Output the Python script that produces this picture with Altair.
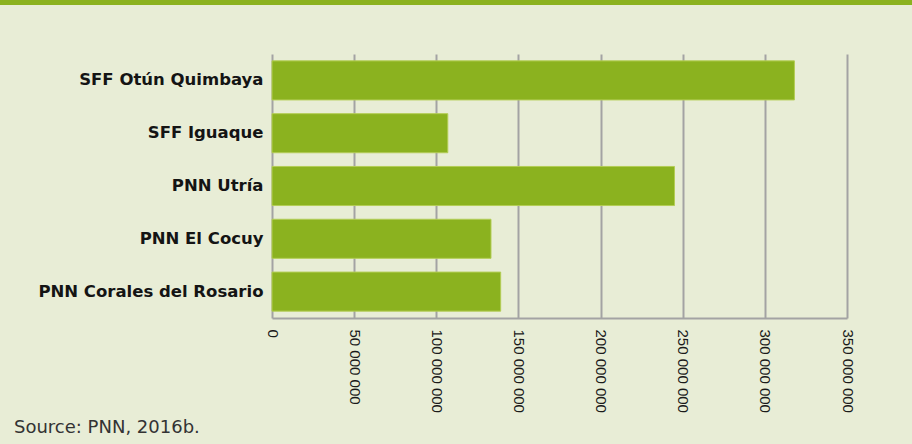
import altair as alt
import pandas as pd

parks = ["SFF Otún Quimbaya", "SFF Iguaque", "PNN Utría", "PNN El Cocuy", "PNN Corales del Rosario"]
values = [318000000, 107000000, 245000000, 133300000, 139200000]
tick_values = [0, 50000000, 100000000, 150000000, 200000000, 250000000, 300000000, 350000000]
source_note = ["Source: PNN, 2016b."]

df = pd.DataFrame({"park": parks, "value": values})

BG = "#e8edd6"
GREEN = "#8bb21f"
GRID = "#a3a3a3"
FONT = "Liberation Sans"
WIDE = "DejaVu Sans"

W, H = 575, 264
PL, PT = 272, 54

bars = alt.Chart(df).mark_bar(color=GREEN, stroke="#b3cd55", strokeWidth=1).encode(
    x=alt.X("value:Q",
            scale=alt.Scale(domain=[0, 350000000], nice=False),
            axis=alt.Axis(values=tick_values, title=None, labelAngle=90,
                          labelExpr="replace(format(datum.value, ','), /,/g, ' ')",
                          labelFont=FONT, labelFontSize=15, labelColor="#1a1a1a",
                          labelPadding=11, ticks=False, domain=True,
                          domainColor=GRID, domainWidth=2,
                          grid=True, gridColor=GRID, gridWidth=2, gridOpacity=1)),
    y=alt.Y("park:N", sort=parks,
            scale=alt.Scale(paddingInner=0.26, paddingOuter=0.13),
            axis=alt.Axis(title=None, labelFont=WIDE, labelFontSize=16.5,
                          labelFontWeight="bold", labelColor="#141414", labelLimit=400,
                          labelPadding=9, ticks=False, domain=False, grid=False)),
)

stripe = alt.Chart(pd.DataFrame({"s": [1]})).mark_rule(color=GREEN, strokeWidth=5).encode(
    x=alt.value(-PL), x2=alt.value(912 - PL), y=alt.value(-PT + 2.5)
)

src = alt.Chart(pd.DataFrame({"t": source_note})).mark_text(
    align="left", baseline="middle", font=WIDE, fontSize=18, color="#333333"
).encode(text="t:N", x=alt.value(14 - PL), y=alt.value(428 - PT))

chart = alt.layer(bars, stripe, src).properties(
    width=W, height=H,
    background=BG,
    padding={"left": PL, "top": PT, "right": 912 - PL - W, "bottom": 444 - PT - H},
    autosize=alt.AutoSizeParams(type="none"),
).configure_view(stroke=None)

chart.save("out.html", embed_options={"renderer": "svg", "actions": False})
